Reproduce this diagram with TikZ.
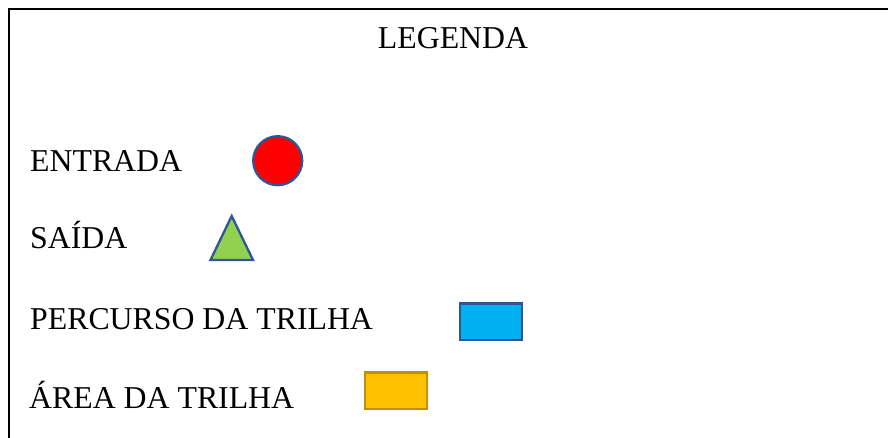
\documentclass[tikz,border=0pt]{standalone}
\usepackage{fontspec}
\setmainfont{Liberation Serif}
\usepackage{xcolor}
\usepackage{tikz}
\usetikzlibrary{positioning}
\definecolor{EdgeBlue}{HTML}{2F5597}
\definecolor{MarkRed}{HTML}{FF0000}
\definecolor{MarkGreen}{HTML}{92D050}
\definecolor{MarkCyan}{HTML}{00B0F0}
\definecolor{MarkGold}{HTML}{FFC000}
\definecolor{EdgeGold}{HTML}{BF9000}

\begin{document}
\begin{tikzpicture}[
    x=1pt, y=-1pt,
    font=\fontsize{31.8}{38}\selectfont,
    legtext/.style={anchor=base west, inner sep=0pt},
    symbol/.style={draw=EdgeBlue, line width=2.3pt, inner sep=0pt},
    swatch/.style={symbol, rectangle, minimum width=62pt, minimum height=36.5pt},
    frame/.style={line width=1.5pt, draw=black}
]
\useasboundingbox (0,0) rectangle (888,438);
\draw[frame] (9,438) -- (9,9) -- (888,9);
\node[anchor=base, inner sep=0pt] (title) at (453,49) {LEGENDA};
\node[legtext] (entrada) at (30,172) {ENTRADA};
\node[legtext] (saida) at (30,249) {SAÍDA};
\node[legtext] (percurso) at (30,329.3) {PERCURSO DA TRILHA};
\node[legtext] (area) at (29,408.3) {ÁREA DA TRILHA};
\node[symbol, circle, fill=MarkRed, minimum size=49pt] (entradaMark) at (277.7,160.7) {};
\draw[symbol, fill=MarkGreen, line join=miter] (231.7,216) -- (253,260) -- (210.5,260) -- cycle;
\node[swatch, fill=MarkCyan] (percursoMark) at (491,321.8) {};
\node[swatch, fill=MarkGold, draw=EdgeGold] (areaMark) at (396,390.8) {};
\end{tikzpicture}
\end{document}
